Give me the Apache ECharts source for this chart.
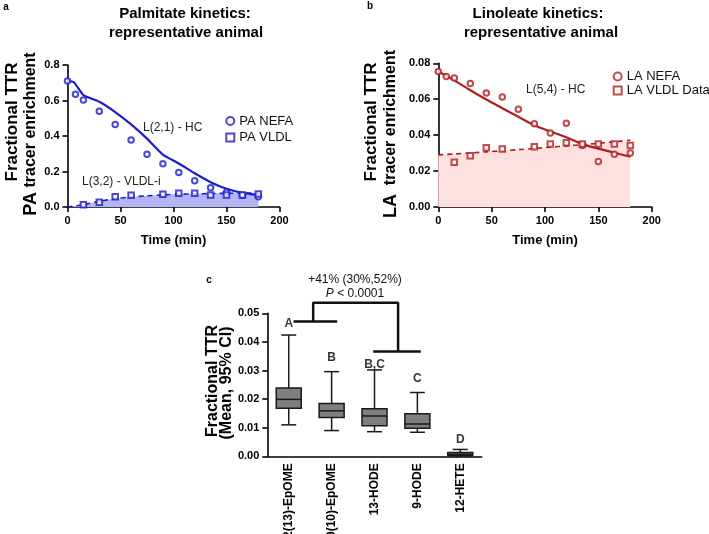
<!DOCTYPE html>
<html><head><meta charset="utf-8">
<script src="https://cdn.jsdelivr.net/npm/echarts@6/dist/echarts.min.js"></script>
<style>html,body{margin:0;padding:0;background:#fff}#c{width:709px;height:534px}</style>
</head><body><div id="c"></div>
<script>
const FONT = '"Liberation Sans", Arial, sans-serif';
const BLUE = '#1c1ccc';
const RED = '#b01e22';

// ---- Panel a: palmitate ----
const paNefaTime = [0, 7.5, 15, 30, 45, 60, 75, 90, 105, 120, 135, 150, 165, 180];
const paNefa = [0.71, 0.635, 0.603, 0.54, 0.465, 0.377, 0.297, 0.244, 0.195, 0.148, 0.109, 0.083, 0.066, 0.058];
const paVldlTime = [15, 30, 45, 60, 90, 105, 120, 135, 150, 165, 180];
const paVldl = [0.013, 0.027, 0.058, 0.066, 0.072, 0.077, 0.078, 0.068, 0.067, 0.067, 0.073];
const paHcFitTime = [0, 6, 15, 30, 45, 60, 75, 90, 105, 120, 135, 150, 165, 180];
const paHcFit = [0.71, 0.703, 0.63, 0.593, 0.535, 0.465, 0.385, 0.295, 0.245, 0.19, 0.14, 0.103, 0.08, 0.068];
const paVldlFitTime = [0, 15, 30, 45, 60, 75, 90, 105, 120, 135, 150, 165, 180];
const paVldlFit = [0, 0.013, 0.032, 0.047, 0.056, 0.063, 0.068, 0.072, 0.074, 0.076, 0.077, 0.078, 0.079];

// ---- Panel b: linoleate ----
const laNefaTime = [0, 7.5, 15, 30, 45, 60, 75, 90, 105, 120, 135, 150, 165, 180];
const laNefa = [0.0754, 0.0726, 0.0718, 0.0687, 0.0635, 0.0613, 0.0544, 0.0464, 0.0412, 0.0466, 0.0342, 0.0254, 0.0293, 0.0301];
const laVldlTime = [15, 30, 45, 60, 90, 105, 120, 135, 150, 165, 180];
const laVldl = [0.0249, 0.0286, 0.033, 0.0323, 0.0336, 0.0351, 0.0358, 0.0351, 0.0351, 0.0351, 0.0342];
const laFitTime = [0, 15, 30, 45, 60, 75, 90, 105, 120, 135, 150, 165, 180];
const laHcFit = [0.0754, 0.0705, 0.065, 0.0598, 0.055, 0.0502, 0.0455, 0.042, 0.0388, 0.035, 0.0325, 0.0302, 0.028];
const laVldlFit = [0.029, 0.0295, 0.0301, 0.0307, 0.0313, 0.0319, 0.0326, 0.0333, 0.034, 0.0347, 0.0355, 0.0363, 0.0372];

// ---- Panel c: oxylipin fractional TTR ----
const eicosanoids = ['12(13)-EpOME', '9(10)-EpOME', '13-HODE', '9-HODE', '12-HETE'];
const ttrMin = [0.011, 0.009, 0.0086, 0.0084, 0.0002];
const ttrQ1 = [0.0168, 0.0136, 0.0107, 0.0098, 0.0002];
const ttrMedian = [0.0199, 0.0159, 0.0141, 0.0113, 0.0007];
const ttrQ3 = [0.0239, 0.0185, 0.0166, 0.0149, 0.0013];
const ttrMax = [0.0424, 0.0296, 0.0302, 0.0223, 0.0024];
const groupLetters = ['A', 'B', 'B,C', 'C', 'D'];
const letterY = [0.0464, 0.0345, 0.0322, 0.0273, 0.0059];
// comparison bracket (x in category-index units, y in TTR units)
const bracketLeft = [[0.11, 0.0471], [1.13, 0.0471]];
const bracketTop = [[0.57, 0.0471], [0.57, 0.0537], [2.55, 0.0537], [2.55, 0.0366]];
const bracketRight = [[1.97, 0.0366], [3.08, 0.0366]];

const zip = (xs, ys) => xs.map((x, i) => [x, ys[i]]);

const axisLine = { onZero: false, lineStyle: { color: '#000', width: 1.6 } };
const axisTick = { length: 5, lineStyle: { color: '#000', width: 1.6 } };
const lbl = { color: '#000', fontWeight: 'bold', fontSize: 11, fontFamily: FONT, margin: 8 };

function valX(grid) {
  return {
    type: 'value', gridIndex: grid, min: 0, max: 200, interval: 50,
    axisLine, axisTick, axisLabel: lbl, splitLine: { show: false },
    name: 'Time (min)', nameLocation: 'middle', nameGap: 27,
    nameTextStyle: { color: '#000', fontWeight: 'bold', fontSize: 13, fontFamily: FONT }
  };
}

function renderBox(params, api) {
  const i = api.value(0);
  const pLo = api.coord([i, api.value(1)]);
  const pQ1 = api.coord([i, api.value(2)]);
  const pMed = api.coord([i, api.value(3)]);
  const pQ3 = api.coord([i, api.value(4)]);
  const pHi = api.coord([i, api.value(5)]);
  const cx = pMed[0];
  const hw = 12.5, cw = 7.5;
  const st = { stroke: '#1a1a1a', lineWidth: 1.5, fill: null };
  return {
    type: 'group', children: [
      { type: 'line', shape: { x1: cx, y1: pHi[1], x2: cx, y2: pQ3[1] }, style: st },
      { type: 'line', shape: { x1: cx, y1: pQ1[1], x2: cx, y2: pLo[1] }, style: st },
      { type: 'line', shape: { x1: cx - cw, y1: pHi[1], x2: cx + cw, y2: pHi[1] }, style: st },
      { type: 'line', shape: { x1: cx - cw, y1: pLo[1], x2: cx + cw, y2: pLo[1] }, style: st },
      { type: 'rect', shape: { x: cx - hw, y: pQ3[1], width: 2 * hw, height: Math.max(pQ1[1] - pQ3[1], 1) },
        style: { fill: '#7f7f7f', stroke: '#1a1a1a', lineWidth: 1.5 } },
      { type: 'line', shape: { x1: cx - hw, y1: pMed[1], x2: cx + hw, y2: pMed[1] }, style: st }
    ]
  };
}

function txt(text, x, y, font, opts) {
  return Object.assign({
    type: 'text', x, y,
    style: Object.assign({ text, font, fill: '#000', align: 'center', verticalAlign: 'middle' }, (opts && opts.style) || {})
  }, (opts && opts.el) || {});
}

const bracketLine = (data) => ({
  type: 'line', xAxisIndex: 3, yAxisIndex: 2, data, symbol: 'none', clip: false,
  lineStyle: { color: '#111', width: 2.5 }, silent: true, animation: false
});

const yAx = (grid, max, interval, digits) => ({
  type: 'value', gridIndex: grid, min: 0, max, interval,
  axisLine: Object.assign({ show: true }, axisLine), axisTick: Object.assign({ show: true }, axisTick),
  axisLabel: Object.assign({}, lbl, { formatter: v => v.toFixed(digits) }), splitLine: { show: false }
});

const option = {
  animation: false,
  backgroundColor: '#fff',
  grid: [
    { left: 67.5, top: 65, width: 212, height: 142, outerBoundsMode: 'none', containLabel: false },
    { left: 438.3, top: 63.3, width: 213.4, height: 143.7, outerBoundsMode: 'none', containLabel: false },
    { left: 267.3, top: 313.3, width: 214.4, height: 143, outerBoundsMode: 'none', containLabel: false }
  ],
  xAxis: [
    valX(0),
    valX(1),
    { type: 'category', gridIndex: 2, data: eicosanoids, boundaryGap: true,
      axisLine, axisTick: Object.assign({ alignWithLabel: true }, axisTick),
      axisLabel: Object.assign({}, lbl, { rotate: 90, fontSize: 12, margin: 7 }) },
    { type: 'value', gridIndex: 2, min: -0.5, max: 4.5, show: false, position: 'top',
      axisLine: { show: false, onZero: false } }
  ],
  yAxis: [
    yAx(0, 0.8, 0.2, 1),
    yAx(1, 0.08, 0.02, 2),
    yAx(2, 0.05, 0.01, 2)
  ],
  legend: [
    { orient: 'vertical', left: 225.3, top: 114.5, padding: 0, itemWidth: 8, itemHeight: 8, itemGap: 3.5,
      textStyle: { fontSize: 13, fontFamily: FONT, color: '#111' },
      data: [{ name: 'PA NEFA', icon: 'circle' }, { name: 'PA VLDL', icon: 'rect' }] },
    { orient: 'vertical', left: 612.7, top: 70, padding: 0, itemWidth: 8, itemHeight: 8, itemGap: 1,
      textStyle: { fontSize: 13, fontFamily: FONT, color: '#111' },
      data: [{ name: 'LA NEFA', icon: 'circle' }, { name: 'LA VLDL Data', icon: 'rect' }] }
  ],
  series: [
    // panel a
    { type: 'line', xAxisIndex: 0, yAxisIndex: 0, data: zip(paVldlFitTime, paVldlFit), smooth: 0.3, symbol: 'none',
      lineStyle: { color: BLUE, width: 1.6, type: [5, 4] }, areaStyle: { color: '#b3b5f5', opacity: 1 }, z: 1 },
    { type: 'line', xAxisIndex: 0, yAxisIndex: 0, data: zip(paHcFitTime, paHcFit), smooth: 0.2, symbol: 'none',
      lineStyle: { color: BLUE, width: 2.2 }, z: 2 },
    { name: 'PA NEFA', type: 'scatter', xAxisIndex: 0, yAxisIndex: 0, data: zip(paNefaTime, paNefa), symbol: 'circle', symbolSize: 5.5,
      itemStyle: { color: '#fff', borderColor: BLUE, borderWidth: 2 }, z: 3 },
    { name: 'PA VLDL', type: 'scatter', xAxisIndex: 0, yAxisIndex: 0, data: zip(paVldlTime, paVldl), symbol: 'rect', symbolSize: 5.5,
      itemStyle: { color: '#fff', borderColor: BLUE, borderWidth: 2 }, z: 3 },
    // panel b
    { type: 'line', xAxisIndex: 1, yAxisIndex: 1, data: zip(laFitTime, laVldlFit), smooth: 0.3, symbol: 'none',
      lineStyle: { color: RED, width: 1.6, type: [5, 4] }, areaStyle: { color: '#fde0e0', opacity: 1 }, z: 1 },
    { type: 'line', xAxisIndex: 1, yAxisIndex: 1, data: zip(laFitTime, laHcFit), smooth: 0.3, symbol: 'none',
      lineStyle: { color: RED, width: 2.2 }, z: 2 },
    { name: 'LA NEFA', type: 'scatter', xAxisIndex: 1, yAxisIndex: 1, data: zip(laNefaTime, laNefa), symbol: 'circle', symbolSize: 5.5,
      itemStyle: { color: '#fff', borderColor: RED, borderWidth: 2 }, z: 3 },
    { name: 'LA VLDL Data', type: 'scatter', xAxisIndex: 1, yAxisIndex: 1, data: zip(laVldlTime, laVldl), symbol: 'rect', symbolSize: 5.5,
      itemStyle: { color: '#fff', borderColor: RED, borderWidth: 2 }, z: 3 },
    // panel c
    { type: 'custom', xAxisIndex: 2, yAxisIndex: 2, renderItem: renderBox,
      encode: { x: 0, y: [1, 2, 3, 4, 5] },
      data: eicosanoids.map((n, i) => [i, ttrMin[i], ttrQ1[i], ttrMedian[i], ttrQ3[i], ttrMax[i]]) },
    { type: 'scatter', xAxisIndex: 2, yAxisIndex: 2, data: eicosanoids.map((n, i) => [i, letterY[i]]),
      symbolSize: 1, itemStyle: { color: 'rgba(0,0,0,0)' },
      label: { show: true, position: 'inside', formatter: p => groupLetters[p.dataIndex],
        color: '#000', fontWeight: 'bold', fontSize: 12, fontFamily: FONT } },
    bracketLine(bracketLeft),
    bracketLine(bracketTop),
    bracketLine(bracketRight)
  ],
  graphic: [
    txt('a', 6, 7, 'bold 10px ' + FONT),
    txt('b', 370, 6, 'bold 10px ' + FONT),
    txt('c', 209, 280, 'bold 10px ' + FONT),
    txt('Palmitate kinetics:', 185, 13.5, 'bold 15px ' + FONT),
    txt('representative animal', 186, 32.5, 'bold 15px ' + FONT),
    txt('Linoleate kinetics:', 538, 13.5, 'bold 15px ' + FONT),
    txt('representative animal', 541, 32.5, 'bold 15px ' + FONT),
    txt('Fractional TTR', 12.5, 122, 'bold 17px ' + FONT, { el: { rotation: Math.PI / 2 } }),
    txt('{b|PA} tracer enrichment', 31, 134, 'bold 16px ' + FONT,
      { el: { rotation: Math.PI / 2 }, style: { rich: { b: { font: 'bold 18px ' + FONT } } } }),
    txt('Fractional TTR', 371, 122, 'bold 17px ' + FONT, { el: { rotation: Math.PI / 2 } }),
    txt('{b|LA}  tracer enrichment', 391, 134, 'bold 16px ' + FONT,
      { el: { rotation: Math.PI / 2 }, style: { rich: { b: { font: 'bold 18px ' + FONT } } } }),
    txt('Fractional TTR', 212.5, 381, 'bold 16px ' + FONT, { el: { rotation: Math.PI / 2 } }),
    txt('(Mean, 95% CI)', 226.5, 383, 'bold 16px ' + FONT, { el: { rotation: Math.PI / 2 } }),
    txt('L(2,1) - HC', 143, 128, '12px ' + FONT, { style: { align: 'left', fill: '#222' } }),
    txt('L(3,2) - VLDL-i', 82, 182, '12px ' + FONT, { style: { align: 'left', fill: '#222' } }),
    txt('L(5,4) - HC', 526, 89.5, '12px ' + FONT, { style: { align: 'left', fill: '#222' } }),
    txt('L(6,5) -  VLDL-i', 470.5, 168, '12px ' + FONT, { style: { align: 'left', fill: '#222' } }),
    txt('+41% (30%,52%)', 355, 280, '12px ' + FONT, { style: { fill: '#111' } }),
    txt('{i|P} < 0.0001', 355, 293.5, '12px ' + FONT,
      { style: { fill: '#111', rich: { i: { font: 'italic 12px ' + FONT } } } })
  ]
};

const chart = echarts.init(document.getElementById('c'), null, { renderer: 'canvas' });
chart.setOption(option);
</script>
</body></html>
